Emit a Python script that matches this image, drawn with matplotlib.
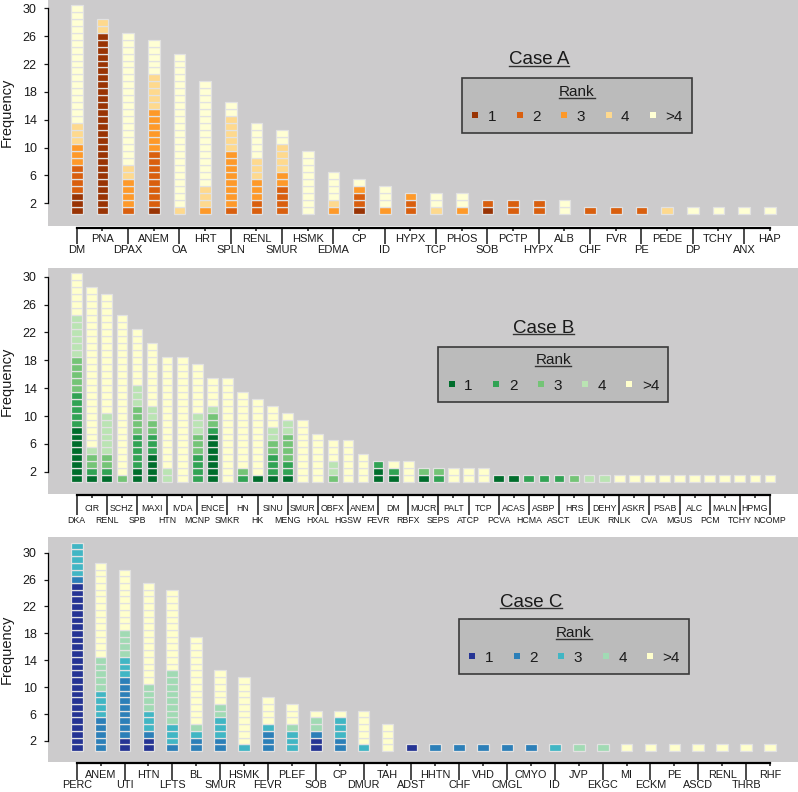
import matplotlib
matplotlib.use('Agg')
import matplotlib.pyplot as plt
from matplotlib.ticker import FixedLocator, FixedFormatter
from matplotlib.patches import Rectangle
from matplotlib.lines import Line2D

plt.rcParams['font.family'] = ['Liberation Sans', 'DejaVu Sans']

# ---------------- data ----------------
labels_a = ["DM", "PNA", "DPAX", "ANEM", "OA", "HRT", "SPLN", "RENL", "SMUR", "HSMK",
            "EDMA", "CP", "ID", "HYPX", "TCP", "PHOS", "SOB", "PCTP", "HYPX", "ALB",
            "CHF", "FVR", "PE", "PEDE", "DP", "TCHY", "ANX", "HAP"]
a_rank1 = [3, 26, 0, 1, 0, 0, 0, 0, 0, 0, 0, 1, 0, 0, 0, 0, 1, 0, 0, 0, 0, 0, 0, 0, 0, 0, 0, 0]
a_rank2 = [4, 0, 1, 8, 0, 0, 1, 2, 4, 0, 0, 2, 0, 2, 0, 0, 1, 2, 2, 0, 1, 1, 1, 0, 0, 0, 0, 0]
a_rank3 = [3, 0, 4, 6, 0, 1, 8, 3, 2, 0, 1, 1, 1, 1, 0, 1, 0, 0, 0, 0, 0, 0, 0, 0, 0, 0, 0, 0]
a_rank4 = [3, 2, 2, 5, 1, 3, 5, 3, 4, 0, 1, 0, 0, 0, 1, 0, 0, 0, 0, 0, 0, 0, 0, 1, 0, 0, 0, 0]
a_rank5 = [17, 0, 19, 5, 22, 15, 2, 5, 2, 9, 4, 1, 3, 0, 2, 2, 0, 0, 0, 2, 0, 0, 0, 0, 1, 1, 1, 1]

labels_b = ["DKA", "CIR", "RENL", "SCHZ", "SPB", "MAXI", "HTN", "IVDA", "MCNP", "ENCE",
            "SMKR", "HN", "HK", "SINU", "MENG", "SMUR", "HXAL", "OBFX", "HGSW", "ANEM",
            "FEVR", "DM", "RBFX", "MUCR", "SEPS", "PALT", "ATCP", "TCP", "PCVA", "ACAS",
            "HCMA", "ASBP", "ASCT", "HRS", "LEUK", "DEHY", "RNLK", "ASKR", "CVA", "PSAB",
            "MGUS", "ALC", "PCM", "MALN", "TCHY", "HPMG", "NCOMP"]
b_rank1 = [8, 1, 1, 0, 2, 4, 0, 0, 0, 7, 0, 0, 1, 1, 1, 0, 0, 0, 0, 0, 2, 1, 0, 1, 0, 0, 0, 0, 1, 1,
           0, 0, 0, 0, 0, 0, 0, 0, 0, 0, 0, 0, 0, 0, 0, 0, 0]
b_rank2 = [5, 1, 1, 0, 5, 3, 0, 0, 4, 1, 0, 1, 0, 3, 2, 0, 0, 0, 0, 0, 1, 1, 0, 0, 1, 0, 0, 0, 0, 0,
           1, 1, 1, 0, 0, 0, 0, 0, 0, 0, 0, 0, 0, 0, 0, 0, 0]
b_rank3 = [5, 2, 2, 1, 4, 2, 0, 0, 3, 2, 0, 1, 0, 2, 4, 0, 0, 1, 0, 0, 0, 0, 0, 1, 1, 0, 0, 0, 0, 0,
           0, 0, 0, 1, 0, 0, 0, 0, 0, 0, 0, 0, 0, 0, 0, 0, 0]
b_rank4 = [6, 1, 6, 0, 3, 2, 2, 0, 3, 1, 0, 0, 0, 2, 2, 0, 0, 2, 0, 0, 0, 0, 0, 0, 0, 0, 0, 0, 0, 0,
           0, 0, 0, 0, 1, 1, 0, 0, 0, 0, 0, 0, 0, 0, 0, 0, 0]
b_rank5 = [6, 23, 17, 23, 8, 9, 16, 18, 7, 4, 15, 11, 11, 3, 1, 9, 7, 3, 6, 4, 0, 1, 3, 0, 0, 2, 2, 2, 0, 0,
           0, 0, 0, 0, 0, 0, 1, 1, 1, 1, 1, 1, 1, 1, 1, 1, 1]

labels_c = ["PERC", "ANEM", "UTI", "HTN", "LFTS", "BL", "SMUR", "HSMK", "FEVR", "PLEF",
            "SOB", "CP", "DMUR", "TAH", "ADST", "HHTN", "CHF", "VHD", "CMGL", "CMYO",
            "ID", "JVP", "EKGC", "MI", "ECKM", "PE", "ASCD", "RENL", "THRB", "RHF"]
c_rank1 = [25, 0, 2, 2, 0, 0, 0, 0, 0, 0, 2, 0, 0, 0, 1, 0, 0, 0, 0, 0, 0, 0, 0, 0, 0, 0, 0, 0, 0, 0]
c_rank2 = [1, 5, 9, 1, 1, 2, 2, 0, 3, 0, 1, 2, 0, 0, 0, 1, 1, 1, 1, 1, 0, 0, 0, 0, 0, 0, 0, 0, 0, 0]
c_rank3 = [5, 4, 3, 3, 3, 1, 3, 1, 1, 3, 0, 3, 1, 0, 0, 0, 0, 0, 0, 0, 1, 0, 0, 0, 0, 0, 0, 0, 0, 0]
c_rank4 = [0, 5, 4, 4, 8, 1, 2, 0, 0, 1, 2, 0, 0, 0, 0, 0, 0, 0, 0, 0, 0, 1, 1, 0, 0, 0, 0, 0, 0, 0]
c_rank5 = [0, 14, 9, 15, 12, 13, 5, 10, 4, 3, 1, 1, 5, 4, 0, 0, 0, 0, 0, 0, 0, 0, 0, 1, 1, 1, 1, 1, 1, 1]

rank_labels = ["1", "2", "3", "4", ">4"]
colors_a = ["#993404", "#D95F0E", "#FE9929", "#FED98E", "#FFFFD4"]
colors_b = ["#006D2C", "#31A354", "#74C476", "#BAE4B3", "#FFFFCC"]
colors_c = ["#253494", "#2C7FB8", "#41B6C4", "#A1DAB4", "#FFFFCC"]
yticks = [2, 6, 10, 14, 18, 22, 26, 30]

# ---------------- layout helpers ----------------
W, H = 798, 792
BG = "#CCCBCC"
EDGE = "#E2E2E2"
TXT = "#1a1a1a"

fig = plt.figure(figsize=(W / 100, H / 100), dpi=100)


def fx(px):
    return px / W


def fy(py):
    return 1 - py / H


def make_axes(top, bottom):
    return fig.add_axes([fx(48), fy(bottom), fx(798) - fx(48), (bottom - top) / H])


def draw_bricks(ax, counts, colors, width):
    n = len(counts[0])
    for k in range(5):
        xs, bots = [], []
        for i in range(n):
            start = sum(counts[j][i] for j in range(k))
            for u in range(counts[k][i]):
                xs.append(i)
                bots.append(start + u + 0.5)
        ax.bar(xs, 1, bottom=bots, width=width, color=colors[k],
               edgecolor=EDGE, linewidth=0.9, zorder=2)


def style(ax, labels, xlim, ylim, fs, long_len, long_pad, short_len, short_pad, outward):
    n = len(labels)
    ax.set_facecolor(BG)
    ax.set_xlim(*xlim)
    ax.set_ylim(*ylim)
    ax.spines['top'].set_visible(False)
    ax.spines['right'].set_visible(False)
    ax.spines['left'].set_bounds(2, 30)
    ax.spines['left'].set_linewidth(0.9)
    ax.spines['bottom'].set_position(('outward', outward))
    ax.spines['bottom'].set_bounds(0, n - 1)
    ax.spines['bottom'].set_linewidth(1.6)
    ax.set_yticks(yticks)
    ax.tick_params(axis='y', length=2.9, width=0.9, pad=5.3, labelsize=9, colors=TXT)
    even = list(range(0, n, 2))
    odd = list(range(1, n, 2))
    ax.xaxis.set_major_locator(FixedLocator(even))
    ax.xaxis.set_major_formatter(FixedFormatter([labels[i] for i in even]))
    ax.xaxis.set_minor_locator(FixedLocator(odd))
    ax.xaxis.set_minor_formatter(FixedFormatter([labels[i] for i in odd]))
    ax.tick_params(axis='x', which='major', length=long_len, width=1.1, pad=long_pad,
                   labelsize=fs, colors=TXT)
    ax.tick_params(axis='x', which='minor', length=short_len, width=1.1, pad=short_pad,
                   labelsize=fs, colors=TXT)
    ax.set_ylabel("Frequency", fontsize=10.5, color=TXT)
    ax.yaxis.set_label_coords(-0.046, 0.5)


renderer = fig.canvas.get_renderer()


def underlined(x, y, s, size):
    t = fig.text(fx(x), fy(y), s, ha='center', va='baseline', fontsize=size, color=TXT)
    bb = t.get_window_extent(renderer=renderer)
    yl = fy(y + 1.6)
    fig.add_artist(Line2D([bb.x0 / W, bb.x1 / W], [yl, yl], color="#333333", lw=1.0,
                          transform=fig.transFigure))
    return t


def legend(x0, y0, colors):
    w, h = 230, 55
    fig.add_artist(Rectangle((fx(x0), fy(y0 + h)), w / W, h / H, transform=fig.transFigure,
                             facecolor="#BBBBBB", edgecolor="#3a3a3a", lw=1.2))
    underlined(x0 + 115, y0 + 17.8, "Rank", 11)
    offs = [13.5, 58, 102.3, 146.8, 191]
    for off, col, lab in zip(offs, colors, rank_labels):
        fig.add_artist(Line2D([fx(x0 + off)], [fy(y0 + 37)], marker='s', markersize=4.8,
                              markerfacecolor=col, markeredgewidth=0, linestyle='None',
                              transform=fig.transFigure))
        fig.text(fx(x0 + off + 12.5), fy(y0 + 42.8), lab, ha='left', va='baseline',
                 fontsize=11, color=TXT)


# ---------------- Case A ----------------
axA = make_axes(0, 225.5)
draw_bricks(axA, [a_rank1, a_rank2, a_rank3, a_rank4, a_rank5], colors_a, 0.455)
style(axA, labels_a, (-1.118, 28.1), (-1.19, 31.19), 8, 11.2, 1.4, 2.5, 1.7, 1.6)
underlined(539, 64, "Case A", 13.5)
legend(461.7, 78.3, colors_a)

# ---------------- Case B ----------------
axB = make_axes(268.3, 494.3)
draw_bricks(axB, [b_rank1, b_rank2, b_rank3, b_rank4, b_rank5], colors_b, 0.71)
style(axB, labels_b, (-1.904, 47.86), (-1.22, 31.2), 6.3, 14.4, 0.9, 2.5, 3.9, 0.6)
underlined(543.3, 332.7, "Case B", 13.5)
legend(438.3, 346.7, colors_b)

# ---------------- Case C ----------------
axC = make_axes(537.3, 762.3)
draw_bricks(axC, [c_rank1, c_rank2, c_rank3, c_rank4, c_rank5], colors_c, 0.49)
style(axC, labels_c, (-1.2, 30.17), (-1.17, 32.29), 7.8, 12.0, 0.5, 2.5, 2.6, 0.6)
underlined(530.7, 606.7, "Case C", 13.5)
legend(459, 619.3, colors_c)

fig.savefig("out.png", dpi=100)
